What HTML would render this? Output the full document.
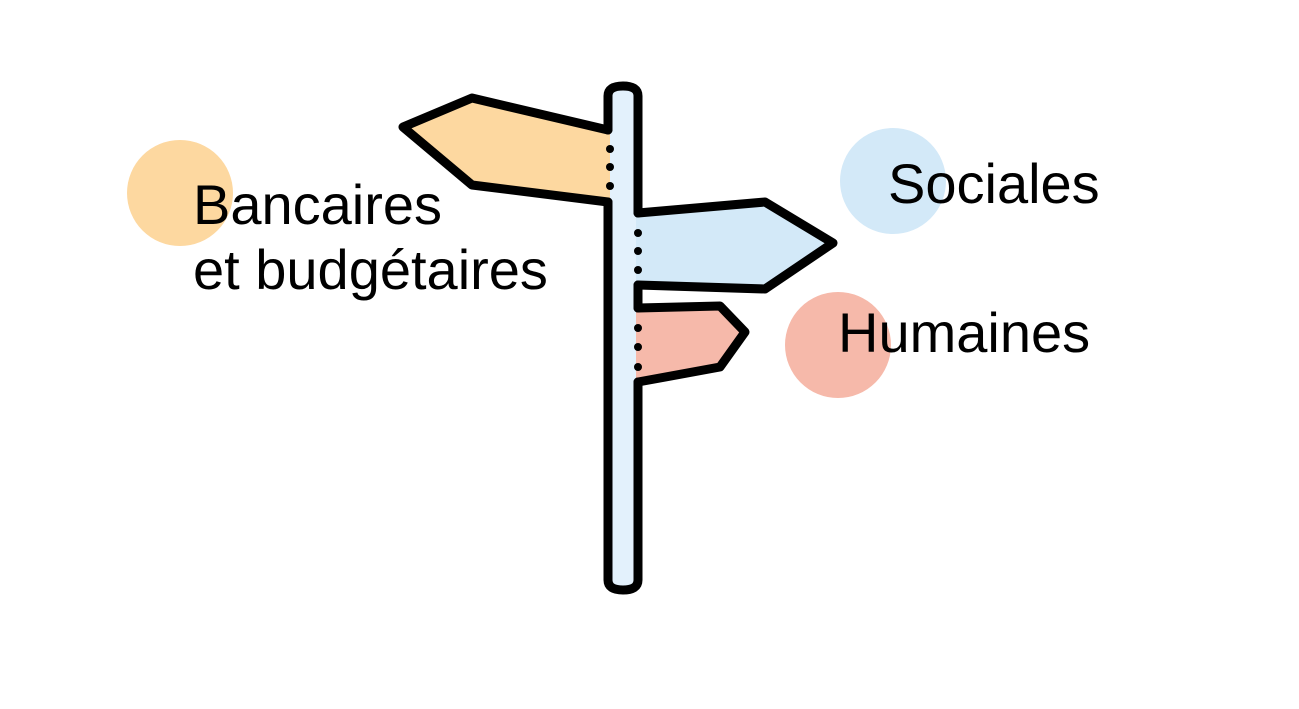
<!DOCTYPE html>
<html><head><meta charset="utf-8"><style>
html,body{margin:0;padding:0;background:#fff;}
svg{display:block}
</style></head><body>
<svg width="1299" height="709" viewBox="0 0 1299 709" xmlns="http://www.w3.org/2000/svg">
<circle cx="180" cy="193" r="53" fill="#fdd8a0"/>
<circle cx="893" cy="181" r="53" fill="#d3e9f8"/>
<circle cx="838" cy="345" r="53" fill="#f6b9aa"/>
<rect x="608" y="86" width="30" height="504" rx="8" fill="#e3f1fc"/>
<polygon points="610,130 472,98 403,127 472,185 610,202" fill="#fdd8a0"/>
<polygon points="636,213 765,202 833,243 765,289 636,285" fill="#d3e9f8"/>
<polygon points="636,308 720,306 745,332 720,367 636,382" fill="#f6b9aa"/>
<g stroke="#000" stroke-width="9" stroke-linejoin="round" stroke-linecap="round" fill="none">
<path d="M608,130 L608,96 Q608,86 623,86 Q638,86 638,96 L638,213"/>
<path d="M608,202 L608,580 Q608,590 623,590 Q638,590 638,580 L638,382"/>
<path d="M638,285 L638,308"/>
<polyline points="608,130 472,98 403,127 472,185 608,202"/>
<polyline points="638,213 765,202 833,243 765,289 638,285"/>
<polyline points="638,308 720,306 745,332 720,367 638,382"/>
</g>
<g fill="#000">
<circle cx="610" cy="149" r="4"/><circle cx="610" cy="167" r="4"/><circle cx="610" cy="186" r="4"/>
<circle cx="638" cy="233" r="4"/><circle cx="638" cy="251" r="4"/><circle cx="638" cy="270" r="4"/>
<circle cx="638" cy="328" r="4"/><circle cx="638" cy="347" r="4"/><circle cx="638" cy="367" r="4"/>
</g>
<g font-family="Liberation Sans, Arial, sans-serif" font-size="56" fill="#000">
<text x="193" y="224">Bancaires</text>
<text x="193" y="289">et budgétaires</text>
<text x="888" y="203">Sociales</text>
<text x="838" y="352">Humaines</text>
</g>
</svg>
</body></html>
